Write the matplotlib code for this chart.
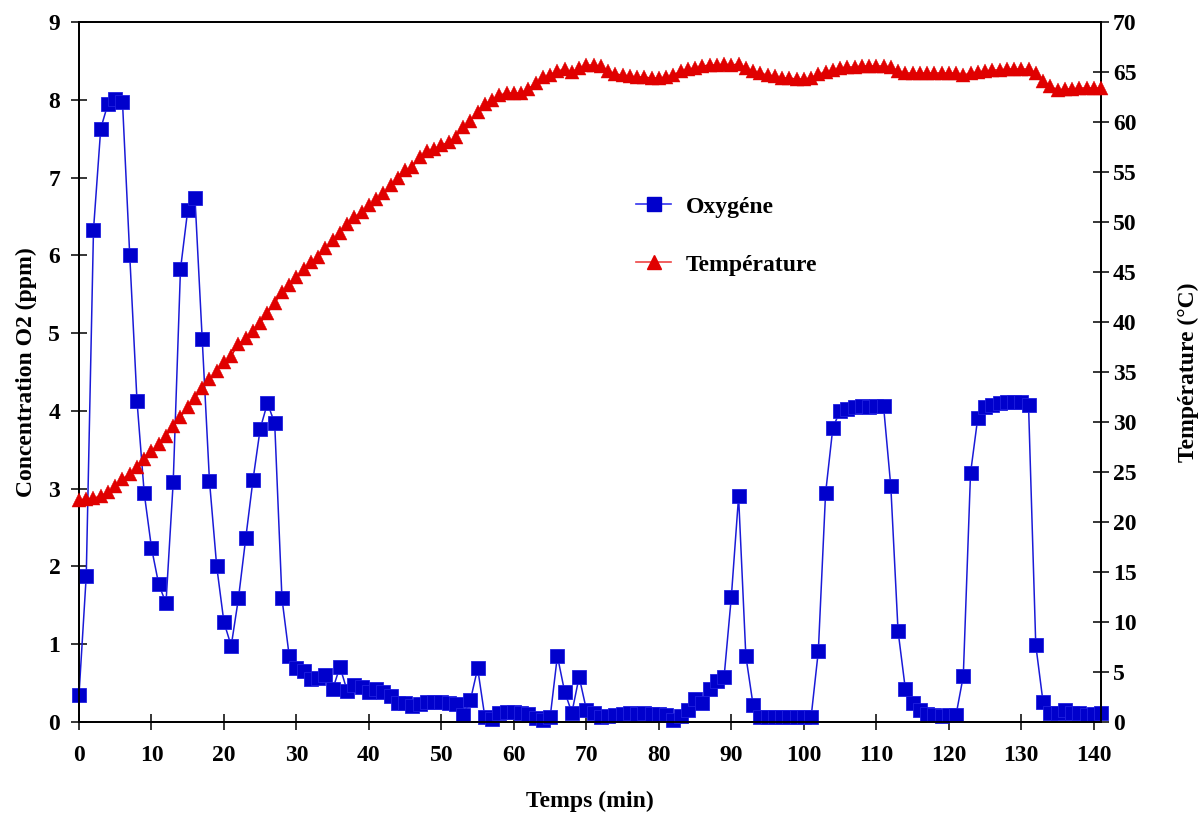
import matplotlib
matplotlib.use("Agg")
import matplotlib.pyplot as plt
from matplotlib.lines import Line2D

# ---------------- data ----------------
time_min = list(range(0, 142))

oxygen_ppm = [
    0.35, 1.88, 6.33, 7.63, 7.95, 8.01, 7.97, 6.00, 4.13, 2.94,
    2.24, 1.77, 1.53, 3.09, 5.82, 6.58, 6.74, 4.93, 3.10, 2.00,
    1.28, 0.98, 1.59, 2.36, 3.11, 3.77, 4.10, 3.84, 1.59, 0.85,
    0.69, 0.66, 0.55, 0.57, 0.61, 0.42, 0.71, 0.40, 0.47, 0.45,
    0.38, 0.43, 0.38, 0.34, 0.25, 0.25, 0.21, 0.23, 0.26, 0.26,
    0.26, 0.25, 0.23, 0.09, 0.28, 0.69, 0.06, 0.04, 0.12, 0.13,
    0.13, 0.12, 0.10, 0.05, 0.03, 0.06, 0.85, 0.39, 0.12, 0.58,
    0.16, 0.12, 0.07, 0.08, 0.09, 0.10, 0.11, 0.10, 0.12, 0.10,
    0.10, 0.09, 0.02, 0.08, 0.15, 0.29, 0.25, 0.42, 0.53, 0.58,
    1.61, 2.90, 0.85, 0.22, 0.06, 0.06, 0.06, 0.06, 0.06, 0.06,
    0.06, 0.06, 0.91, 2.94, 3.78, 4.00, 4.03, 4.05, 4.06, 4.05,
    4.06, 4.06, 3.03, 1.17, 0.43, 0.24, 0.16, 0.10, 0.09, 0.08,
    0.09, 0.09, 0.59, 3.20, 3.91, 4.05, 4.08, 4.10, 4.11, 4.11,
    4.11, 4.08, 0.99, 0.26, 0.12, 0.12, 0.15, 0.12, 0.11, 0.09,
    0.10, 0.12,
]

temperature_c = [
    22.2, 22.3, 22.4, 22.6, 23.0, 23.6, 24.3, 24.8, 25.5, 26.3,
    27.1, 27.8, 28.6, 29.6, 30.5, 31.5, 32.4, 33.4, 34.3, 35.1,
    36.0, 36.6, 37.8, 38.4, 39.1, 39.9, 40.9, 41.9, 43.0, 43.7,
    44.5, 45.3, 46.0, 46.5, 47.4, 48.2, 48.9, 49.8, 50.5, 51.0,
    51.7, 52.3, 52.9, 53.7, 54.4, 55.2, 55.5, 56.5, 57.1, 57.3,
    57.7, 58.0, 58.5, 59.5, 60.1, 61.0, 61.8, 62.2, 62.7, 62.9,
    62.9, 62.9, 63.3, 63.9, 64.5, 64.7, 65.1, 65.3, 65.0, 65.4,
    65.7, 65.7, 65.6, 65.1, 64.8, 64.7, 64.6, 64.5, 64.5, 64.4,
    64.4, 64.5, 64.7, 65.1, 65.3, 65.4, 65.6, 65.7, 65.7, 65.8,
    65.7, 65.8, 65.4, 65.1, 64.9, 64.7, 64.6, 64.4, 64.4, 64.3,
    64.3, 64.4, 64.8, 65.0, 65.2, 65.4, 65.5, 65.5, 65.6, 65.6,
    65.6, 65.6, 65.5, 65.1, 64.9, 64.9, 64.9, 64.9, 64.9, 64.9,
    64.9, 64.9, 64.7, 64.9, 65.0, 65.1, 65.2, 65.2, 65.3, 65.3,
    65.3, 65.3, 64.9, 64.1, 63.6, 63.2, 63.3, 63.3, 63.4, 63.4,
    63.4, 63.4,
]

x_ticks = list(range(0, 141, 10))
y_left_ticks = list(range(0, 10))
y_right_ticks = list(range(0, 71, 5))

label_oxy = "Oxygéne"
label_temp = "Température"
xlabel = "Temps (min)"
ylabel_left = "Concentration O2 (ppm)"
ylabel_right = "Température (°C)"

# ---------------- style ----------------
plt.rcParams['font.family'] = ['Liberation Serif', 'DejaVu Serif']
plt.rcParams['font.weight'] = 'bold'
FS = 17

blue = '#0000CC'
red = '#E00000'

fig = plt.figure(figsize=(11.99, 8.16), dpi=100)
ax = fig.add_axes([79 / 1199, 1 - 722 / 816, (1101 - 79) / 1199, (722 - 22) / 816])
ax2 = ax.twinx()

ax.plot(time_min, oxygen_ppm, color='#1a1ad8', linewidth=1.1, marker='s',
        markersize=9.5, markerfacecolor=blue, markeredgecolor='#2020E0',
        markeredgewidth=0.6, clip_on=False, zorder=3)
ax2.plot(time_min, temperature_c, color=red, linewidth=1.0, marker='^',
         markersize=10, markerfacecolor=red, markeredgecolor=red,
         markeredgewidth=0.3, clip_on=False, zorder=3)

ax.set_xlim(0, 141)
ax.set_ylim(0, 9)
ax2.set_ylim(0, 70)
ax.set_xticks(x_ticks)
ax.set_yticks(y_left_ticks)
ax2.set_yticks(y_right_ticks)

for a in (ax, ax2):
    for s in a.spines.values():
        s.set_linewidth(1.3)
        s.set_color('black')

ax.tick_params(axis='x', direction='inout', length=11, width=1.1, pad=11,
               labelsize=FS)
ax.tick_params(axis='y', direction='inout', length=11, width=1.1, pad=8,
               labelsize=FS)
ax2.tick_params(axis='y', direction='inout', length=11, width=1.1, pad=3,
                labelsize=FS)
for lab in ax.get_xticklabels() + ax.get_yticklabels() + ax2.get_yticklabels():
    lab.set_fontweight('bold')

ax.set_xlabel(xlabel, fontsize=FS, fontweight='bold', labelpad=18)
ax.set_ylabel(ylabel_left, fontsize=FS, fontweight='bold', labelpad=8)
ax2.set_ylabel(ylabel_right, fontsize=FS, fontweight='bold', labelpad=30)

handles = [
    Line2D([], [], color='#3333EE', linewidth=1.2, marker='s', markersize=9.5,
           markerfacecolor=blue, markeredgecolor=blue),
    Line2D([], [], color='#EE4444', linewidth=1.2, marker='^', markersize=10,
           markerfacecolor=red, markeredgecolor=red),
]
fig.legend(handles, [label_oxy, label_temp], loc='upper left',
           bbox_to_anchor=(636 / 1199, 1 - 196 / 816), frameon=False,
           prop={'weight': 'bold', 'size': FS},
           handlelength=1.5, handletextpad=0.62, labelspacing=1.55,
           borderpad=0, borderaxespad=0)

fig.savefig('out.png', dpi=100)
